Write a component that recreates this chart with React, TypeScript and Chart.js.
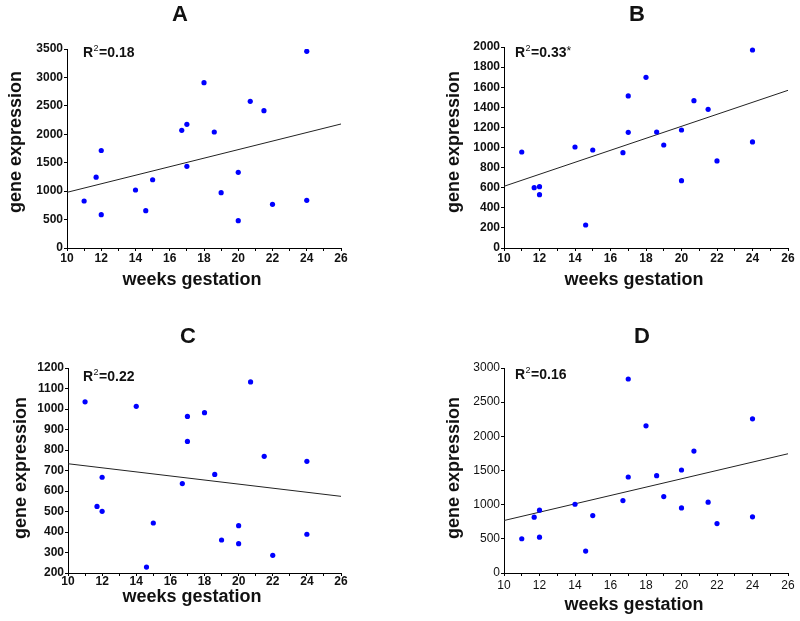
import React, { useEffect, useRef } from 'react';
import { Chart, registerables } from 'chart.js';
Chart.register(...registerables);

const FONT = "'Liberation Sans', Arial, sans-serif";

// shared x values (weeks gestation)
const weeks = [11, 11.7, 12, 12, 14, 14.6, 15, 16.7, 17, 17, 18, 18.6, 19, 20, 20, 20.7, 21.5, 22, 24, 24];

const valuesA = [827, 1245, 1715, 586, 1020, 657, 1200, 2070, 2175, 1436, 2908, 2040, 973, 1331, 481, 2580, 2416, 768, 3459, 838];
const valuesB = [955, 600, 610, 531, 1005, 229, 975, 949, 1513, 1151, 1698, 1154, 1025, 1174, 670, 1466, 1380, 866, 1970, 1055];
const valuesC = [1035, 525, 501, 667, 1013, 229, 444, 636, 964, 842, 982, 681, 361, 431, 343, 1132, 769, 286, 745, 389];
const valuesD = [501, 817, 919, 525, 1006, 321, 841, 1060, 2839, 1405, 2154, 1425, 1118, 1507, 953, 1784, 1036, 724, 2256, 822];

// regression line endpoints at x = 10 and x = 26
const fitX = [10, 26];
const fitA = [979, 2181];
const fitB = [614, 1569];
const fitC = [733, 574];
const fitD = [768, 1745];

const titles = ['A', 'B', 'C', 'D'];
const r2Labels = ['0.18', '0.33*', '0.22', '0.16'];
const yRanges = [
  [0, 3500, 500],
  [0, 2000, 200],
  [200, 1200, 100],
  [0, 3000, 500],
];

type Layout = {
  left: number; top: number; w: number; h: number;
  area: [number, number, number, number]; // left, top, right, bottom (canvas relative)
  title: [number, number];
  yTitle: [number, number];
  xTitle: [number, number];
  r2: [number, number];
  tickBold: boolean;
  xPad: number;
};

const layouts: Layout[] = [
  { left: 0, top: 0, w: 400, h: 310, area: [67, 49, 341, 248], title: [180, 15], yTitle: [16, 142], xTitle: [192, 280], r2: [83, 53], tickBold: true, xPad: 0 },
  { left: 400, top: 0, w: 400, h: 310, area: [104, 47, 388, 248], title: [237, 15], yTitle: [54, 142], xTitle: [234, 280], r2: [115, 53], tickBold: true, xPad: 0 },
  { left: 0, top: 310, w: 400, h: 311, area: [68, 58, 341, 263], title: [188, 27], yTitle: [21, 158], xTitle: [192, 287], r2: [83, 67], tickBold: true, xPad: -2 },
  { left: 400, top: 310, w: 400, h: 311, area: [104, 58, 388, 263], title: [242, 27], yTitle: [54, 158], xTitle: [234, 295], r2: [115, 65], tickBold: false, xPad: 2 },
];

const allValues = [valuesA, valuesB, valuesC, valuesD];
const allFits = [fitA, fitB, fitC, fitD];

function Panel({ idx }: { idx: number }) {
  const ref = useRef<HTMLCanvasElement>(null);
  const L = layouts[idx];
  useEffect(() => {
    if (!ref.current) return;
    const vals = allValues[idx];
    const fit = allFits[idx];
    const [ymin, ymax, ystep] = yRanges[idx];
    const [aL, aT, aR, aB] = L.area;
    const textPlugin = {
      id: 'panelText' + idx,
      afterDraw(chart: any) {
        const ctx = chart.ctx;
        ctx.save();
        ctx.fillStyle = '#111';
        ctx.textBaseline = 'middle';
        // panel title
        ctx.font = `bold 22px ${FONT}`;
        ctx.textAlign = 'center';
        ctx.fillText(titles[idx], L.title[0], L.title[1]);
        // x axis title
        ctx.font = `bold 18px ${FONT}`;
        ctx.fillText('weeks gestation', L.xTitle[0], L.xTitle[1]);
        // y axis title
        ctx.save();
        ctx.translate(L.yTitle[0], L.yTitle[1]);
        ctx.rotate(-Math.PI / 2);
        ctx.fillText('gene expression', 0, 0);
        ctx.restore();
        // R^2 label
        ctx.textAlign = 'left';
        let x = L.r2[0];
        const y = L.r2[1];
        ctx.font = `bold 14px ${FONT}`;
        ctx.fillText('R', x, y);
        x += ctx.measureText('R').width;
        ctx.font = `9px ${FONT}`;
        ctx.fillText('2', x + 0.5, y - 4);
        x += ctx.measureText('2').width + 1;
        ctx.font = `bold 14px ${FONT}`;
        const rest = '=' + r2Labels[idx];
        if (rest.endsWith('*')) {
          const main = rest.slice(0, -1);
          ctx.fillText(main, x, y);
          x += ctx.measureText(main).width;
          ctx.font = `12px ${FONT}`;
          ctx.fillText('*', x, y - 1);
        } else {
          ctx.fillText(rest, x, y);
        }
        ctx.restore();
      },
    };
    const tickFont = { family: FONT, size: 12, weight: L.tickBold ? 'bold' : 'normal' } as any;
    const chart = new Chart(ref.current, {
      type: 'scatter',
      data: {
        datasets: [
          {
            label: 'samples',
            data: weeks.map((w, i) => ({ x: w, y: vals[i] })),
            backgroundColor: '#0000ff',
            borderColor: '#0000ff',
            borderWidth: 0,
            pointRadius: 2.6,
            pointHoverRadius: 2.6,
          },
          {
            label: 'fit',
            data: fitX.map((w, i) => ({ x: w, y: fit[i] })),
            showLine: true,
            borderColor: '#222',
            borderWidth: 1,
            pointRadius: 0,
            fill: false,
          } as any,
        ],
      },
      options: {
        responsive: false,
        animation: false,
        events: [],
        layout: { padding: { left: 0, top: aT, right: L.w - aR, bottom: 0 } },
        plugins: { legend: { display: false }, tooltip: { enabled: false }, title: { display: false } },
        scales: {
          x: {
            type: 'linear',
            min: 10,
            max: 26,
            afterFit: (s: any) => { s.height = L.h - aB; },
            border: { display: true, color: '#000', width: 1 },
            grid: { display: true, drawOnChartArea: false, drawTicks: true, tickLength: 3, color: '#000' },
            ticks: {
              stepSize: 1,
              autoSkip: false,
              maxRotation: 0,
              padding: L.xPad,
              color: '#111',
              font: tickFont,
              callback: (v: any) => (Number(v) % 2 === 0 ? String(v) : ''),
            },
          },
          y: {
            type: 'linear',
            min: ymin,
            max: ymax,
            afterFit: (s: any) => { s.width = aL; },
            border: { display: true, color: '#000', width: 1 },
            grid: { display: true, drawOnChartArea: false, drawTicks: true, tickLength: 3, color: '#000' },
            ticks: { stepSize: ystep, padding: 1, color: '#111', font: tickFont, callback: (v: any) => String(v) },
          },
        },
      },
      plugins: [textPlugin],
    });
    return () => chart.destroy();
  }, [idx]);
  return (
    <canvas
      ref={ref}
      width={L.w}
      height={L.h}
      style={{ position: 'absolute', left: L.left, top: L.top, width: L.w, height: L.h }}
    />
  );
}

export default function App() {
  return (
    <div style={{ position: 'absolute', left: 0, top: 0, width: 800, height: 621, background: '#fff' }}>
      {[0, 1, 2, 3].map((i) => (
        <Panel key={i} idx={i} />
      ))}
    </div>
  );
}
